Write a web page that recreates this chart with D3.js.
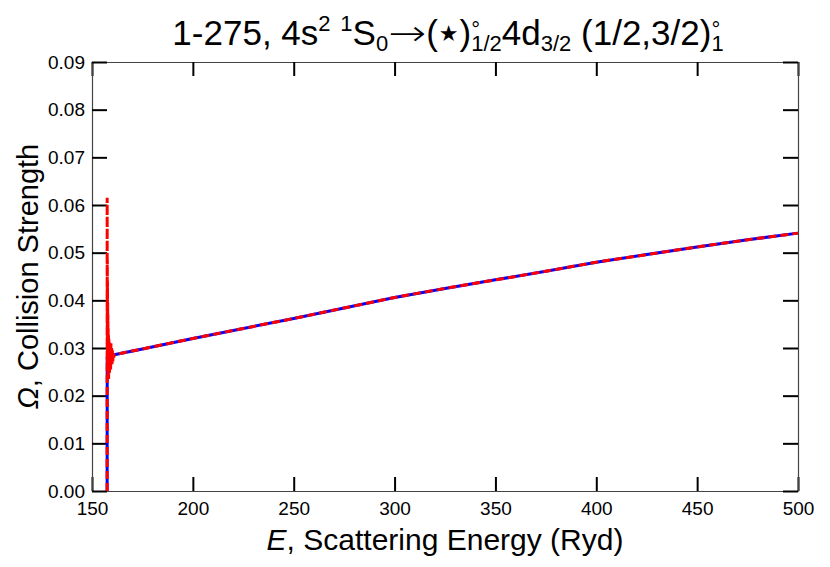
<!DOCTYPE html>
<html>
<head>
<meta charset="utf-8">
<script src="https://cdn.jsdelivr.net/npm/d3@7"></script>
<style>
  body { margin: 0; background: #fff; }
  svg { font-family: "Liberation Sans", Arial, Helvetica, sans-serif; }
  .ttl text { white-space: pre; }
</style>
</head>
<body>
<script>
// axis ticks
var xTicks = [150, 200, 250, 300, 350, 400, 450, 500];
var yTicks = [0, 0.01, 0.02, 0.03, 0.04, 0.05, 0.06, 0.07, 0.08, 0.09];

// background (no resonances), blue
var smoothE = [157.5, 157.55, 161, 175, 200, 225, 250, 275, 300, 325, 350, 375, 400, 425, 450, 475, 500];
var smoothOmega = [0, 0.0280, 0.0286, 0.0298, 0.0320, 0.0341, 0.0362, 0.0384, 0.0406, 0.0425, 0.0443, 0.0461, 0.0480, 0.0496, 0.0512, 0.0527, 0.0541];

// resonance region near threshold, red
var resE = [157.50, 157.52, 157.56, 157.60, 157.64, 157.68, 157.72, 157.77, 157.82, 157.88, 157.94,
            158.00, 158.08, 158.16, 158.25, 158.35, 158.45, 158.56, 158.68, 158.80, 158.94,
            159.08, 159.22, 159.38, 159.55, 159.72, 159.90, 160.10, 160.30, 160.55, 160.80, 161.00];
var resOmega = [0, 0.0615, 0.0300, 0.0485, 0.0262, 0.0440, 0.0250, 0.0395, 0.0270, 0.0370, 0.0240,
                0.0345, 0.0262, 0.0330, 0.0235, 0.0320, 0.0258, 0.0312, 0.0248, 0.0305, 0.0262,
                0.0298, 0.0255, 0.0310, 0.0268, 0.0300, 0.0262, 0.0295, 0.0272, 0.0292, 0.0280, 0.0286];

var width = 830, height = 567;
var margin = {top: 62, right: 32, bottom: 76, left: 92};
var w = width - margin.left - margin.right;
var h = height - margin.top - margin.bottom;

var svg = d3.select('body').append('svg')
    .attr('width', width)
    .attr('height', height);

var g = svg.append('g').attr('transform', 'translate(' + margin.left + ',' + margin.top + ')');

var x = d3.scaleLinear().domain([150, 500]).range([0, w]);
var y = d3.scaleLinear().domain([0, 0.09]).range([h, 0]);

function styleAxis(sel) {
    sel.select('.domain').attr('stroke', '#444').attr('stroke-width', 1.2);
    sel.selectAll('.tick line').attr('stroke', '#000').attr('stroke-width', 2);
    sel.selectAll('.tick text').attr('fill', '#000').style('font-size', '19px')
       .style('font-family', '"Liberation Sans", Arial, sans-serif');
}

g.append('g').attr('transform', 'translate(0,' + h + ')')
    .call(d3.axisBottom(x).tickValues(xTicks).tickSize(-14).tickSizeOuter(0).tickPadding(11))
    .call(styleAxis);
g.append('g')
    .call(d3.axisTop(x).tickValues(xTicks).tickSize(-14).tickSizeOuter(0).tickFormat(''))
    .call(styleAxis);
g.append('g')
    .call(d3.axisLeft(y).tickValues(yTicks).tickSize(-15).tickSizeOuter(0).tickPadding(7).tickFormat(d3.format('.2f')))
    .call(styleAxis);
g.append('g').attr('transform', 'translate(' + w + ',0)')
    .call(d3.axisRight(y).tickValues(yTicks).tickSize(-15).tickSizeOuter(0).tickFormat(''))
    .call(styleAxis);

var line = d3.line().x(function (d) { return x(d[0]); }).y(function (d) { return y(d[1]); });

var blueData = smoothE.map(function (e, i) { return [e, smoothOmega[i]]; });
var redData = resE.map(function (e, i) { return [e, resOmega[i]]; })
    .concat(blueData.slice(3));

g.append('path').datum(blueData)
    .attr('d', line)
    .attr('fill', 'none')
    .attr('stroke', '#0000ff')
    .attr('stroke-width', 3);

g.append('path').datum(redData)
    .attr('d', line)
    .attr('fill', 'none')
    .attr('stroke', '#ff0000')
    .attr('stroke-width', 3)
    .attr('stroke-dasharray', '8,4');

// axis titles
svg.append('text')
    .attr('x', margin.left + w / 2)
    .attr('y', 550)
    .attr('text-anchor', 'middle')
    .style('font-size', '30px')
    .html('<tspan font-style="italic">E</tspan>, Scattering Energy (Ryd)');

svg.append('text')
    .attr('transform', 'translate(38,' + (margin.top + h / 2) + ') rotate(-90)')
    .attr('text-anchor', 'middle')
    .style('font-size', '29px')
    .html('<tspan font-style="italic">\u03A9</tspan>, Collision Strength');

// title, laid out piece by piece so stacked scripts line up
var titleParts = [
    {t: '1-275, 4s'}, {sup: '2'}, {t: ' '}, {sup: '1'}, {t: 'S'}, {sub: '0'},
    {t: '\u2192', len: 38, font: '"DejaVu Sans"', weight: 200}, {t: '('},
    {t: '\u2605', font: '"DejaVu Sans"', size: 22, dy: -4, pad: 1}, {t: ')'},
    {sup: '\u00B0', sub: '1/2'}, {t: '4d'}, {sub: '3/2'},
    {t: ' (1/2,3/2)'}, {sup: '\u00B0', sub: '1'}
];
var tg = svg.append('g').attr('class', 'ttl');
var cx = 0;
titleParts.forEach(function (p) {
    var adv = 0;
    if (p.t) {
        var pad = p.pad || 0;
        var t = tg.append('text').attr('x', cx + pad).attr('y', p.dy || 0)
            .style('font-size', (p.size || 35) + 'px').text(p.t);
        if (p.font) t.style('font-family', p.font);
        if (p.weight) t.style('font-weight', p.weight);
        if (p.len) t.attr('textLength', p.len).attr('lengthAdjust', 'spacingAndGlyphs');
        adv = (p.len || t.node().getComputedTextLength()) + 2 * pad;
    }
    if (p.sup) {
        var s = tg.append('text').attr('x', cx).attr('y', p.sup === '\u00B0' ? -8 : -14)
            .style('font-size', '22px').text(p.sup);
        adv = Math.max(adv, s.node().getComputedTextLength());
    }
    if (p.sub) {
        var b = tg.append('text').attr('x', cx).attr('y', 6).style('font-size', '22px').text(p.sub);
        adv = Math.max(adv, b.node().getComputedTextLength());
    }
    cx += adv;
});
tg.attr('transform', 'translate(' + (448 - cx / 2) + ',45)');
</script>
</body>
</html>
